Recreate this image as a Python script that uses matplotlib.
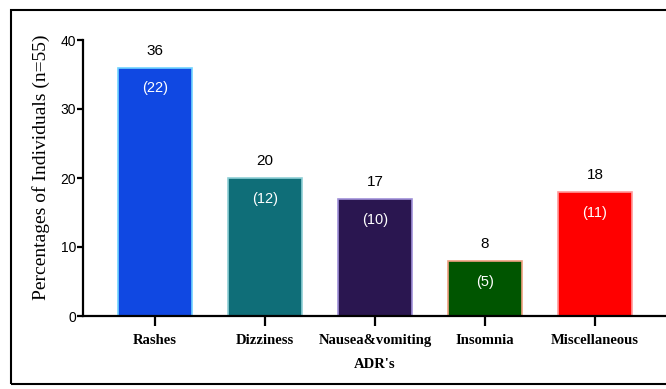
import matplotlib.pyplot as plt
from matplotlib.patches import Rectangle

# reacciones adversas (ADR) y porcentajes
categorias = ["Rashes", "Dizziness", "Nausea&vomiting", "Insomnia", "Miscellaneous"]
porcentajes = [36, 20, 17, 8, 18]
casos = [22, 12, 10, 5, 11]
colores = ["#1048e2", "#0f6e78", "#2a1650", "#005500", "#ff0000"]
bordes = ["#6fd3ff", "#8fd0d6", "#a090d8", "#f0a080", "#ff9a9a"]

fig = plt.figure(figsize=(6.66, 3.89), dpi=100)
ax = fig.add_axes([83 / 666, 1 - 316 / 389, 1 - 83 / 666, (316 - 40) / 389])

x = list(range(len(categorias)))
ax.bar(x, porcentajes, width=0.67, color=colores, edgecolor=bordes, linewidth=1.2)

for xi, p, c in zip(x, porcentajes, casos):
    ax.annotate(str(p), (xi, p), xytext=(0, 12), textcoords="offset points",
                ha="center", va="center", fontsize=11, family="Liberation Sans")
    ax.annotate("(%d)" % c, (xi, p), xytext=(0, -15), textcoords="offset points",
                ha="center", va="center", fontsize=10.5, color="white",
                family="Liberation Sans")

ax.set_xlim((83 - 155) / 110, (666 - 155) / 110)
ax.set_ylim(0, 40)
ax.set_yticks([0, 10, 20, 30, 40])
ax.set_xticks(x)
ax.set_xticklabels(categorias, family="Liberation Serif", fontweight="bold", fontsize=10.5)
for t in ax.get_yticklabels():
    t.set_family("Liberation Sans")
    t.set_fontsize(10)

ax.spines["top"].set_visible(False)
ax.spines["right"].set_visible(False)
ax.spines["left"].set_linewidth(1.6)
ax.spines["bottom"].set_linewidth(1.6)
ax.tick_params(axis="y", length=4, width=1.6, pad=1)
ax.tick_params(axis="x", length=7, width=1.6, pad=6)

ax.set_ylabel("Percentages of Individuals (n=55)", family="Liberation Serif",
              fontsize=14, va="center")
ax.yaxis.set_label_coords(-0.072, 0.54)
ax.set_xlabel("ADR's", family="Liberation Serif", fontweight="bold", fontsize=10.5,
              labelpad=8)

# marco exterior
fig.patches.append(Rectangle((11 / 666, 1 - 384 / 389), 1.0, (384 - 10) / 389,
                             transform=fig.transFigure, fill=False,
                             edgecolor="black", linewidth=1.5))

fig.savefig("out.png", dpi=100)
